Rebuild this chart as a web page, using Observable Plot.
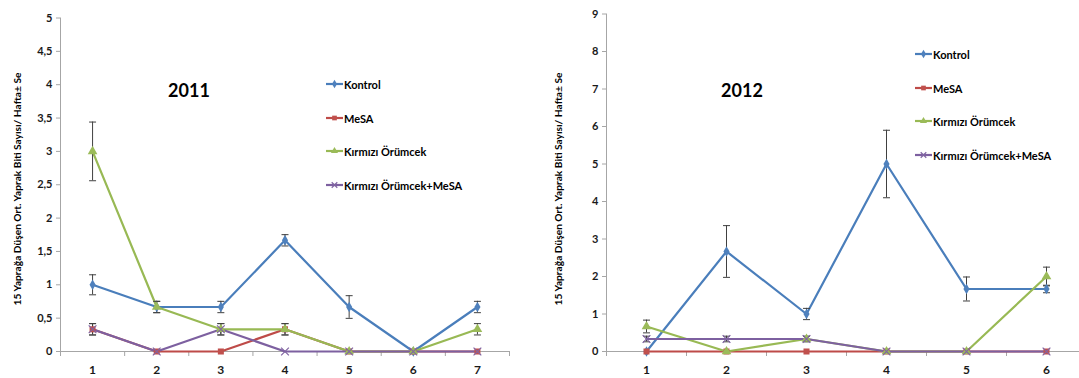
<!DOCTYPE html>
<html>
<head>
<meta charset="utf-8">
<script src="https://cdn.jsdelivr.net/npm/d3@7"></script>
<script src="https://cdn.jsdelivr.net/npm/@observablehq/plot@0.6"></script>
<style>
  html, body { margin: 0; padding: 0; background: #fff; overflow: hidden; }
  #wrap { position: relative; width: 1079px; height: 378px; overflow: hidden; font-family: Lato, "Open Sans", sans-serif; }
  .panel { position: absolute; top: 0; height: 378px; }
  .panel svg { max-width: none !important; display: block; }
  .ttl { position: absolute; font-weight: 700; font-size: 18px; color: #000; transform: translate(-50%, -50%); white-space: nowrap; }
  .ylab { position: absolute; left: 0; top: 0; pointer-events: none; }
  .leg { position: absolute; font-weight: 700; font-size: 11px; color: #000; }
  .leg .row { position: absolute; left: 0; display: flex; align-items: center; white-space: nowrap; height: 14px; transform: translateY(-50%); }
  .leg svg { display: block; margin-right: 1px; }
</style>
</head>
<body>
<div id="wrap"></div>
<script>
// ---------- data ----------
const seriesNames = ["Kontrol", "MeSA", "Kırmızı Örümcek", "Kırmızı Örümcek+MeSA"];
const lineColors = ["#4A7EBB", "#BE4B48", "#98B954", "#7D60A0"];
const markerColors = ["#4F81BD", "#C0504D", "#9BBB59", "#8064A2"];
const markerSymbols = ["diamond", "square", "triangle", "times"];
const yAxisTitle = "15 Yaprağa Düşen Ort. Yaprak Biti Sayısı/ Hafta± Se";

// 2011
const weeks2011 = [1, 2, 3, 4, 5, 6, 7];
const kontrol2011 = [1, 0.667, 0.667, 1.667, 0.667, 0, 0.667];
const kontrol2011Se = [0.15, 0.085, 0.085, 0.085, 0.17, 0, 0.085];
const mesa2011 = [0.333, 0, 0, 0.333, 0, 0, 0];
const mesa2011Se = [0.085, 0, 0, 0.085, 0, 0, 0];
const kirmizi2011 = [3, 0.667, 0.333, 0.333, 0, 0, 0.333];
const kirmizi2011Se = [0.44, 0.085, 0.085, 0.085, 0, 0, 0.085];
const kirmiziMesa2011 = [0.333, 0, 0.333, 0, 0, 0, 0];
const kirmiziMesa2011Se = [0.085, 0, 0.085, 0, 0, 0, 0];
const yTicks2011 = [0, 0.5, 1, 1.5, 2, 2.5, 3, 3.5, 4, 4.5, 5];

// 2012
const weeks2012 = [1, 2, 3, 4, 5, 6];
const kontrol2012 = [0, 2.667, 1, 5, 1.667, 1.667];
const kontrol2012Se = [0, 0.69, 0.15, 0.9, 0.32, 0.1];
const mesa2012 = [0, 0, 0, 0, 0, 0];
const mesa2012Se = [0, 0, 0, 0, 0, 0];
const kirmizi2012 = [0.667, 0, 0.333, 0, 0, 2];
const kirmizi2012Se = [0.17, 0, 0.07, 0, 0, 0.25];
const kirmiziMesa2012 = [0.333, 0.333, 0.333, 0, 0, 0];
const kirmiziMesa2012Se = [0.075, 0.075, 0.075, 0, 0, 0];
const yTicks2012 = [0, 1, 2, 3, 4, 5, 6, 7, 8, 9];

// ---------- chart builder ----------
const capSymbol = { draw(ctx) { ctx.moveTo(-3.5, 0); ctx.lineTo(3.5, 0); } };
const fmt = d => String(d).replace(".", ",");

function buildChart({weeks, values, ses, yTicks, width, marginLeft, marginRight, marginTop}) {
  const xDomain = [weeks[0] - 0.5, weeks[weeks.length - 1] + 0.5];
  const bounds = d3.range(xDomain[0], xDomain[1] + 0.01, 1);
  const yMax = yTicks[yTicks.length - 1];
  const marks = [
    Plot.ruleY([0], {stroke: "#a6a6a6", strokeWidth: 1}),
    Plot.ruleX([xDomain[0]], {y1: 0, y2: yMax, stroke: "#a6a6a6", strokeWidth: 1}),
    Plot.axisY({ticks: yTicks, tickFormat: fmt, tickSize: 4, tickPadding: 4, stroke: "#a6a6a6", fill: "#1a1a1a", label: null, fontSize: 11, fontWeight: 700}),
    Plot.axisX({ticks: bounds, tickSize: 5, tickFormat: () => "", stroke: "#a6a6a6", label: null}),
    Plot.axisX({ticks: weeks, tickSize: 0, tickPadding: 14, tickFormat: d => String(d), fill: "#1a1a1a", label: null, fontSize: 12, fontWeight: 700})
  ];
  seriesNames.forEach((name, si) => {
    const rows = weeks.map((w, i) => ({x: w, y: values[si][i], se: ses[si][i]}));
    const err = rows.filter(r => r.se > 0);
    marks.push(Plot.line(rows, {x: "x", y: "y", stroke: lineColors[si], strokeWidth: 2.2, curve: "linear"}));
    marks.push(Plot.ruleX(err, {x: "x", y1: d => d.y - d.se, y2: d => d.y + d.se, stroke: "#404040", strokeWidth: 1}));
    marks.push(Plot.dot(err, {x: "x", y: d => d.y + d.se, symbol: capSymbol, r: 3, stroke: "#404040", strokeWidth: 1, fill: "none"}));
    marks.push(Plot.dot(err, {x: "x", y: d => d.y - d.se, symbol: capSymbol, r: 3, stroke: "#404040", strokeWidth: 1, fill: "none"}));
  });
  seriesNames.forEach((name, si) => {
    const rows = weeks.map((w, i) => ({x: w, y: values[si][i]}));
    const sym = markerSymbols[si];
    const isTimes = sym === "times";
    marks.push(Plot.dot(rows, {
      x: "x", y: "y", symbol: sym,
      r: sym === "diamond" ? 3.2 : sym === "square" ? 3.4 : 3.6,
      fill: isTimes ? "none" : markerColors[si],
      stroke: isTimes ? markerColors[si] : "none",
      strokeWidth: 1.2
    }));
  });
  return Plot.plot({
    width, height: 378,
    marginLeft, marginRight, marginTop, marginBottom: 27,
    x: {domain: xDomain, type: "linear"},
    y: {domain: [0, yMax]},
    style: {fontFamily: "Lato, 'Open Sans', sans-serif", background: "transparent", overflow: "visible", maxWidth: "none"},
    marks
  });
}

function legendSwatch(si) {
  const s = d3.create("svg").attr("width", 17).attr("height", 10);
  s.append("line").attr("x1", 0).attr("x2", 17).attr("y1", 5).attr("y2", 5)
    .attr("stroke", lineColors[si]).attr("stroke-width", 2.2);
  const sym = {diamond: d3.symbolDiamond, square: d3.symbolSquare, triangle: d3.symbolTriangle, times: d3.symbolTimes}[markerSymbols[si]];
  const p = s.append("path").attr("d", d3.symbol(sym, 22)()).attr("transform", "translate(8.5,5)");
  if (markerSymbols[si] === "times") p.attr("fill", "none").attr("stroke", markerColors[si]).attr("stroke-width", 1.2);
  else p.attr("fill", markerColors[si]);
  return s.node();
}

const wrap = document.getElementById("wrap");

function addPanel(left, width, chart, title, titleX, legX, legYs) {
  const panel = document.createElement("div");
  panel.className = "panel";
  panel.style.left = left + "px";
  panel.style.width = width + "px";
  panel.appendChild(chart);
  wrap.appendChild(panel);

  const t = document.createElement("div");
  t.className = "ttl";
  t.style.left = titleX + "px";
  t.style.top = "90px";
  t.textContent = title;
  wrap.appendChild(t);

  const leg = document.createElement("div");
  leg.className = "leg";
  leg.style.left = legX + "px";
  leg.style.top = "0px";
  seriesNames.forEach((name, si) => {
    const row = document.createElement("div");
    row.className = "row";
    row.style.top = legYs[si] + "px";
    row.appendChild(legendSwatch(si));
    const span = document.createElement("span");
    span.textContent = name;
    row.appendChild(span);
    leg.appendChild(row);
  });
  wrap.appendChild(leg);
}

const chart2011 = buildChart({
  weeks: weeks2011,
  values: [kontrol2011, mesa2011, kirmizi2011, kirmiziMesa2011],
  ses: [kontrol2011Se, mesa2011Se, kirmizi2011Se, kirmiziMesa2011Se],
  yTicks: yTicks2011, width: 540, marginLeft: 60, marginRight: 31, marginTop: 17.5
});
const chart2012 = buildChart({
  weeks: weeks2012,
  values: [kontrol2012, mesa2012, kirmizi2012, kirmiziMesa2012],
  ses: [kontrol2012Se, mesa2012Se, kirmizi2012Se, kirmiziMesa2012Se],
  yTicks: yTicks2012, width: 546, marginLeft: 66, marginRight: 0, marginTop: 13.5
});

addPanel(0, 540, chart2011, "2011", 189, 326, [84, 118, 151, 185]);
addPanel(540, 546, chart2012, "2012", 742, 915, [54, 88, 121, 155]);

// rotated y-axis titles (SVG text, no wrapping)
const ov = d3.select(wrap).append("svg").attr("class", "ylab").attr("width", 1079).attr("height", 378);
[17, 558].forEach(cx => {
  ov.append("text")
    .attr("transform", `translate(${cx},189) rotate(-90)`)
    .attr("text-anchor", "middle")
    .attr("dy", "0.35em")
    .attr("font-family", "Lato, 'Open Sans', sans-serif")
    .attr("font-weight", 700)
    .attr("font-size", 10.2)
    .attr("fill", "#000")
    .text(yAxisTitle);
});
</script>
</body>
</html>
